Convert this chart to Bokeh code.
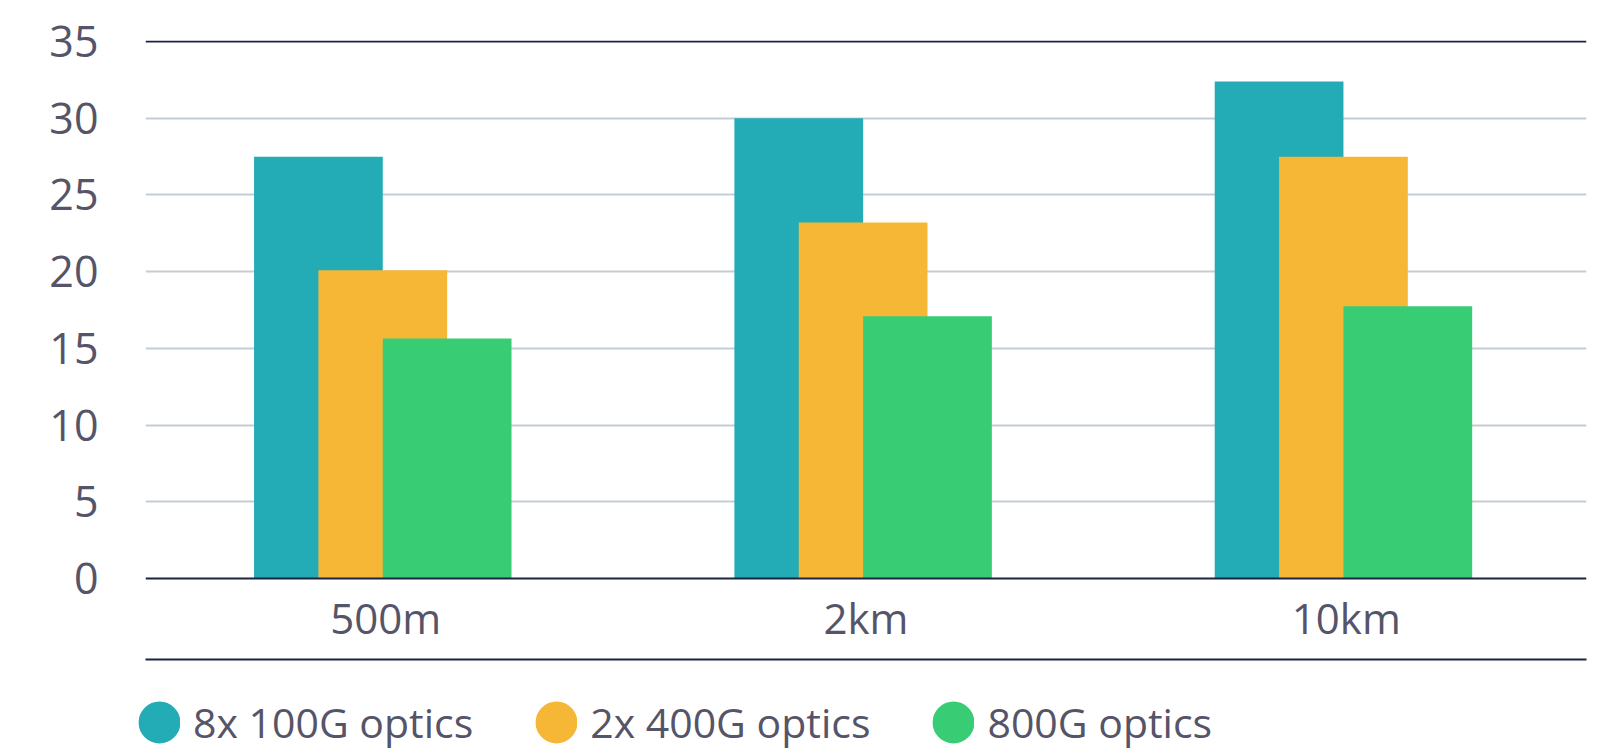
import numpy as np
from bokeh.plotting import figure
from bokeh.models import ColumnDataSource, Span, Legend, LegendItem, FixedTicker
from bokeh.layouts import column
from bokeh.transform import dodge
from bokeh.embed import file_html
from bokeh.resources import INLINE

categories = ["500m", "2km", "10km"]
series_names = ["8x 100G optics", "2x 400G optics", "800G optics"]
optics_8x100 = [27.5, 30.0, 32.4]
optics_2x400 = [20.1, 23.2, 27.5]
optics_800 = [15.65, 17.1, 17.75]
y_ticks = [0, 5, 10, 15, 20, 25, 30, 35]

colors = ["#23ABB6", "#F6B737", "#38CC75"]
text_color = "#555468"
dark = "#1B2541"
grid_color = "#C4CDD7"
FONT = "Open Sans"

src = ColumnDataSource(dict(x=categories, a=optics_8x100, b=optics_2x400, c=optics_800))

p = figure(x_range=categories, y_range=(-5.28, 35.07), width=1610, height=661,
           output_backend="svg", toolbar_location=None,
           min_border_left=145, min_border_right=24, min_border_top=40, min_border_bottom=2)
p.frame_align = False
p.outline_line_color = None
p.background_fill_color = "white"
p.border_fill_color = "white"

bw = 0.268
offs = [-0.14, -0.006, 0.128]
for key, off, col in zip(["a", "b", "c"], offs, colors):
    p.vbar(x=dodge("x", off, range=p.x_range), top=key, width=bw, bottom=0,
           source=src, fill_color=col, line_color=None)

# grid
p.xgrid.grid_line_color = None
p.ygrid.ticker = FixedTicker(ticks=y_ticks[1:-1])
p.ygrid.grid_line_color = grid_color
p.ygrid.grid_line_width = 2
p.ygrid.level = "underlay"

p.add_layout(Span(location=y_ticks[-1], dimension="width", line_color=dark, line_width=2))
p.add_layout(Span(location=y_ticks[0], dimension="width", line_color=dark, line_width=2))

# y axis
p.yaxis.ticker = FixedTicker(ticks=y_ticks)
p.yaxis.axis_line_color = None
p.yaxis.major_tick_line_color = None
p.yaxis.minor_tick_line_color = None
p.yaxis.major_label_standoff = 41
p.yaxis.major_label_text_font = FONT
p.yaxis.major_label_text_font_size = "43px"
p.yaxis.major_label_text_color = text_color

# x axis (its line is the rule under the category labels)
p.xaxis.axis_line_color = dark
p.xaxis.axis_line_width = 2
p.xaxis.major_tick_line_color = None
p.xaxis.minor_tick_line_color = None
p.xaxis.major_label_standoff = -77
p.xaxis.major_label_text_font = FONT
p.xaxis.major_label_text_font_size = "42px"
p.xaxis.major_label_text_color = text_color

# legend in its own strip below
q = figure(width=1610, height=90, x_range=(0, 1), y_range=(0, 1),
           output_backend="svg", toolbar_location=None,
           x_axis_location=None, y_axis_location=None, min_border=0)
q.frame_align = False
q.outline_line_color = None
q.grid.visible = False
items = []
for name, col in zip(series_names, colors):
    r = q.scatter(x=np.array([np.nan]), y=np.array([np.nan]), marker="circle", size=16.8,
                  fill_color=col, line_color=col, line_width=25)
    items.append(LegendItem(label=name, renderers=[r]))

legend = Legend(items=items, orientation="horizontal", location=(138, 1),
                glyph_width=42, glyph_height=56, label_standoff=13, spacing=62,
                padding=0, margin=0, border_line_color=None, background_fill_alpha=0,
                label_text_font=FONT, label_text_font_size="41px",
                label_text_color=text_color)
q.add_layout(legend, "center")

layout = column(p, q, spacing=0)
open("out.html", "w").write(file_html(layout, INLINE))
